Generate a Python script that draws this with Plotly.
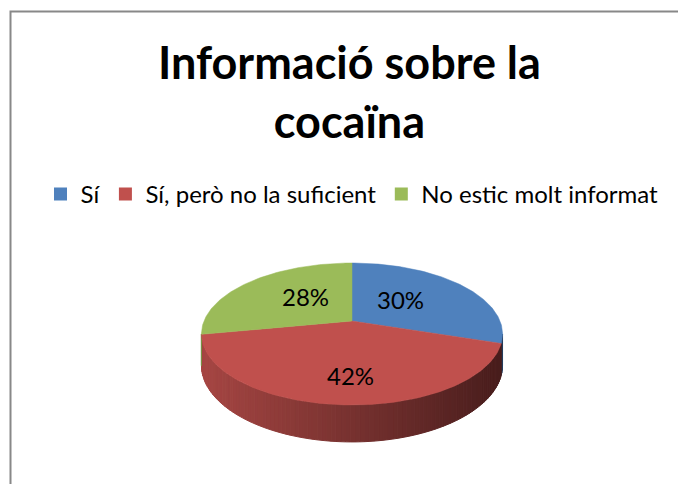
import math
import plotly.graph_objects as go

# Survey answers and their shares (percent)
categories = ["Sí", "Sí, però no la suficient", "No estic molt informat"]
shares = [30, 42, 28]
title_lines = ["Informació sobre la", "cocaïna"]

top_colors = ["#4F81BD", "#C0504D", "#9BBB59"]
side_light = [(62, 100, 148), (166, 70, 67), (120, 146, 68)]
side_dark = [(38, 62, 94), (72, 29, 28), (76, 94, 42)]

W, H = 678, 484
# Pie geometry in pixel space (tilted disc with mild perspective)
CX, CY = 352.0, 321.0
RA, RB = 148.0, 68.6
PERSP = 0.183
DEPTH = 30.2
FONT = "Lato"
LABEL_PULL_X = 0.7


def proj(theta_deg, frac=1.0, drop=0.0):
    t = math.radians(theta_deg)
    u, v = frac * math.sin(t), frac * math.cos(t)
    s = 1.0 / (1.0 + PERSP * v)
    return CX + RA * u * s, CY - RB * v * s + drop * s


def arc(t0, t1, n):
    return [t0 + (t1 - t0) * i / n for i in range(n + 1)]


def poly_stats(xs, ys):
    area = cxs = cys = 0.0
    for i in range(len(xs) - 1):
        c = xs[i] * ys[i + 1] - xs[i + 1] * ys[i]
        area += c
        cxs += (xs[i] + xs[i + 1]) * c
        cys += (ys[i] + ys[i + 1]) * c
    area *= 0.5
    if abs(area) < 1e-9:
        return 0.0, 0.0, 0.0
    return abs(area), cxs / (6 * area), cys / (6 * area)


fig = go.Figure()

# slice angle ranges (clockwise from 12 o'clock)
bounds = []
acc = 0.0
for v in shares:
    t0 = acc / sum(shares) * 360.0
    acc += v
    bounds.append((t0, acc / sum(shares) * 360.0))

# front-facing side of the disc lies between the two silhouette angles
sil_r = math.degrees(math.acos(-PERSP))
sil_l = 360.0 - sil_r

xmin = CX - RA * 1.02
xmax = CX + RA * 1.02
label_parts = [[] for _ in shares]

for k, (t0, t1) in enumerate(bounds):
    s0, s1 = max(t0, sil_r), min(t1, sil_l)
    if s1 <= s0:
        continue
    n = max(2, int((s1 - s0) / 1.5))
    angs = arc(s0, s1, n)
    # whole side polygon, used for label weighting
    topr = [proj(a) for a in angs]
    botr = [proj(a, drop=DEPTH) for a in reversed(angs)]
    pts = topr + botr + [topr[0]]
    label_parts[k].append(poly_stats([p[0] for p in pts], [p[1] for p in pts]))
    # shaded strips along the rim
    for i in range(n):
        a0, a1 = angs[i], angs[i + 1]
        p0, p1 = proj(a0), proj(a1)
        q1, q0 = proj(a1, drop=DEPTH), proj(a0, drop=DEPTH)
        xm = 0.5 * (p0[0] + p1[0])
        f = min(1.0, max(0.0, (xm - xmin) / (xmax - xmin)))
        c = tuple(int(round(side_light[k][j] + (side_dark[k][j] - side_light[k][j]) * f)) for j in range(3))
        col = "rgb(%d,%d,%d)" % c
        fig.add_trace(go.Scatter(
            x=[p0[0], p1[0], q1[0], q0[0], p0[0]],
            y=[p0[1], p1[1], q1[1], q0[1], p0[1]],
            mode="lines", fill="toself", fillcolor=col,
            line=dict(color=col, width=1),
            hoverinfo="skip", showlegend=False,
        ))

# top faces
for k, (t0, t1) in enumerate(bounds):
    n = max(4, int((t1 - t0) / 1.0))
    pts = [(CX, CY)] + [proj(a) for a in arc(t0, t1, n)] + [(CX, CY)]
    xs, ys = [p[0] for p in pts], [p[1] for p in pts]
    label_parts[k].append(poly_stats(xs, ys))
    fig.add_trace(go.Scatter(
        x=xs, y=ys, mode="lines", fill="toself", fillcolor=top_colors[k],
        line=dict(color=top_colors[k], width=0.5),
        hoverinfo="skip", showlegend=False,
    ))

# percentage labels near the centroid of each visible slice
for k, parts in enumerate(label_parts):
    tot = sum(p[0] for p in parts)
    lx = sum(p[0] * p[1] for p in parts) / tot
    ly = sum(p[0] * p[2] for p in parts) / tot
    lx = CX + (lx - CX) * LABEL_PULL_X
    fig.add_annotation(x=lx, y=ly - 4, text="%d%%" % shares[k], showarrow=False,
                       font=dict(family=FONT, size=24, color="#000000"))

# legend entries
for k, name in enumerate(categories):
    fig.add_trace(go.Scatter(
        x=[None], y=[None], mode="markers", name=name,
        marker=dict(symbol="square", size=13, color=top_colors[k]),
    ))

fig.add_annotation(
    xref="paper", yref="paper", x=350 / W, y=1 - 33 / H, xanchor="center", yanchor="top",
    text="<b>" + "<br>".join(title_lines) + "</b>", showarrow=False, align="center",
    font=dict(family=FONT, size=45, color="#000000"),
)

fig.update_layout(
    width=W, height=H,
    margin=dict(l=0, r=0, t=0, b=0),
    paper_bgcolor="white", plot_bgcolor="white",
    legend=dict(orientation="h", x=352 / W, xanchor="center", y=1 - 172 / H, yanchor="top",
                font=dict(family=FONT, size=24, color="#000000"),
                itemclick=False, bgcolor="rgba(0,0,0,0)"),
    xaxis=dict(range=[0, W], visible=False, fixedrange=True),
    yaxis=dict(range=[H, 0], visible=False, fixedrange=True),
    shapes=[dict(type="path", xref="paper", yref="paper",
                 path="M %f %f L %f %f L %f %f" % (10.5 / W, -0.05, 10.5 / W, 1 - 11.5 / H, 1.05, 1 - 11.5 / H),
                 line=dict(color="#888888", width=2))],
)

fig.write_html("out.html")
